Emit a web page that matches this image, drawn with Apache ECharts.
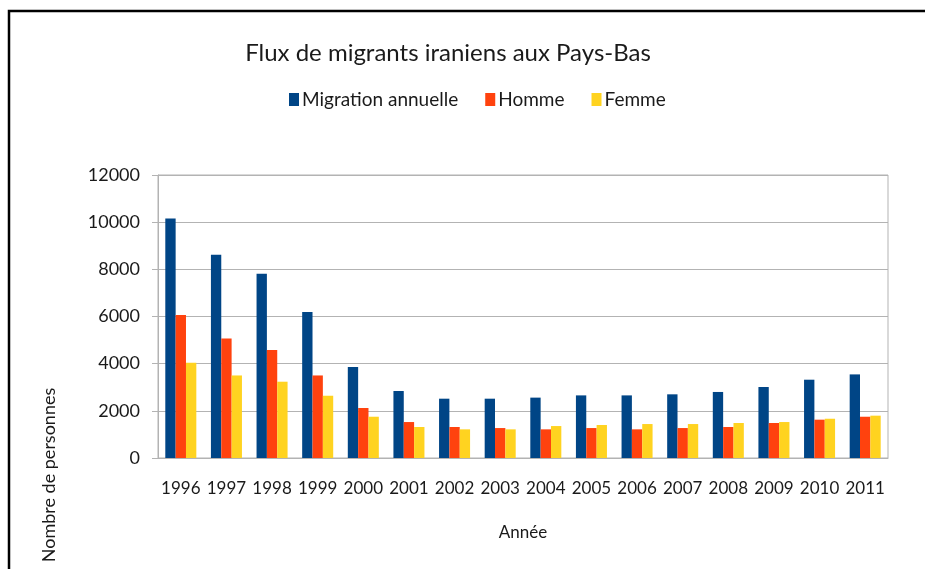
<!DOCTYPE html>
<html>
<head>
<meta charset="utf-8">
<script src="https://cdn.jsdelivr.net/npm/echarts@6/dist/echarts.min.js"></script>
<style>
  html, body { margin: 0; padding: 0; background: #fff; }
  #chart { width: 925px; height: 569px; }
</style>
</head>
<body>
<div id="chart"></div>
<script>
// données
const years = ['1996', '1997', '1998', '1999', '2000', '2001', '2002', '2003',
  '2004', '2005', '2006', '2007', '2008', '2009', '2010', '2011'];
const migration = [10160, 8620, 7815, 6190, 3860, 2840, 2515, 2515,
  2560, 2655, 2655, 2700, 2800, 3010, 3320, 3545];
const homme = [6065, 5070, 4580, 3500, 2120, 1525, 1315, 1270,
  1215, 1270, 1215, 1270, 1315, 1485, 1625, 1750];
const femme = [4040, 3500, 3235, 2640, 1750, 1315, 1215, 1215,
  1355, 1400, 1440, 1440, 1485, 1525, 1665, 1795];
const yTicks = [0, 2000, 4000, 6000, 8000, 10000, 12000];

const font = 'Lato';
const chart = echarts.init(document.getElementById('chart'));

const option = {
  backgroundColor: '#fff',
  textStyle: { fontFamily: font, color: '#1a1a1a' },
  title: {
    text: 'Flux de migrants iraniens aux Pays-Bas',
    left: 443,
    textAlign: 'center',
    top: 36,
    textStyle: { fontFamily: font, fontSize: 24, fontWeight: 'normal', color: '#1a1a1a' }
  },
  legend: {
    top: 85,
    left: 284,
    itemWidth: 10,
    itemHeight: 13,
    itemGap: 27,
    icon: 'rect',
    textStyle: { fontFamily: font, fontSize: 19, color: '#1a1a1a', padding: [0, 0, 0, -2] },
    data: ['Migration annuelle', 'Homme', 'Femme']
  },
  grid: {
    left: 158, right: 37, top: 175, bottom: 111,
    show: true, borderColor: '#b3b3b3', borderWidth: 1
  },
  xAxis: {
    type: 'category',
    data: years,
    name: 'Année',
    nameLocation: 'middle',
    nameGap: 66,
    nameTextStyle: { fontFamily: font, fontSize: 17, color: '#1a1a1a' },
    axisLine: { lineStyle: { color: '#b3b3b3' } },
    axisTick: { show: false },
    axisLabel: { fontFamily: font, fontSize: 17, color: '#1a1a1a', margin: 22, interval: 0 }
  },
  yAxis: {
    type: 'value',
    min: yTicks[0],
    max: yTicks[yTicks.length - 1],
    interval: 2000,
    axisLine: { show: true, lineStyle: { color: '#b3b3b3' } },
    axisTick: { show: true, length: 6, lineStyle: { color: '#b3b3b3' } },
    splitLine: { lineStyle: { color: '#b3b3b3' } },
    axisLabel: { fontFamily: font, fontSize: 18, color: '#1a1a1a', margin: 18,
      formatter: v => String(v) }
  },
  graphic: [
    {
      type: 'text',
      x: 49, y: 475,
      rotation: Math.PI / 2,
      style: {
        text: 'Nombre de personnes',
        fontFamily: font, fontSize: 18, fill: '#1a1a1a',
        align: 'center', verticalAlign: 'middle'
      }
    },
    {
      type: 'polyline',
      shape: { points: [[9, 580], [9, 11], [930, 11]] },
      style: { stroke: '#000', lineWidth: 2.5, fill: null }
    }
  ],
  series: [
    { name: 'Migration annuelle', type: 'bar', data: migration, barGap: '0%', barCategoryGap: '32%',
      itemStyle: { color: '#004586' } },
    { name: 'Homme', type: 'bar', data: homme, itemStyle: { color: '#ff420e' } },
    { name: 'Femme', type: 'bar', data: femme, itemStyle: { color: '#ffd320' } }
  ]
};

chart.setOption(option);
</script>
</body>
</html>
